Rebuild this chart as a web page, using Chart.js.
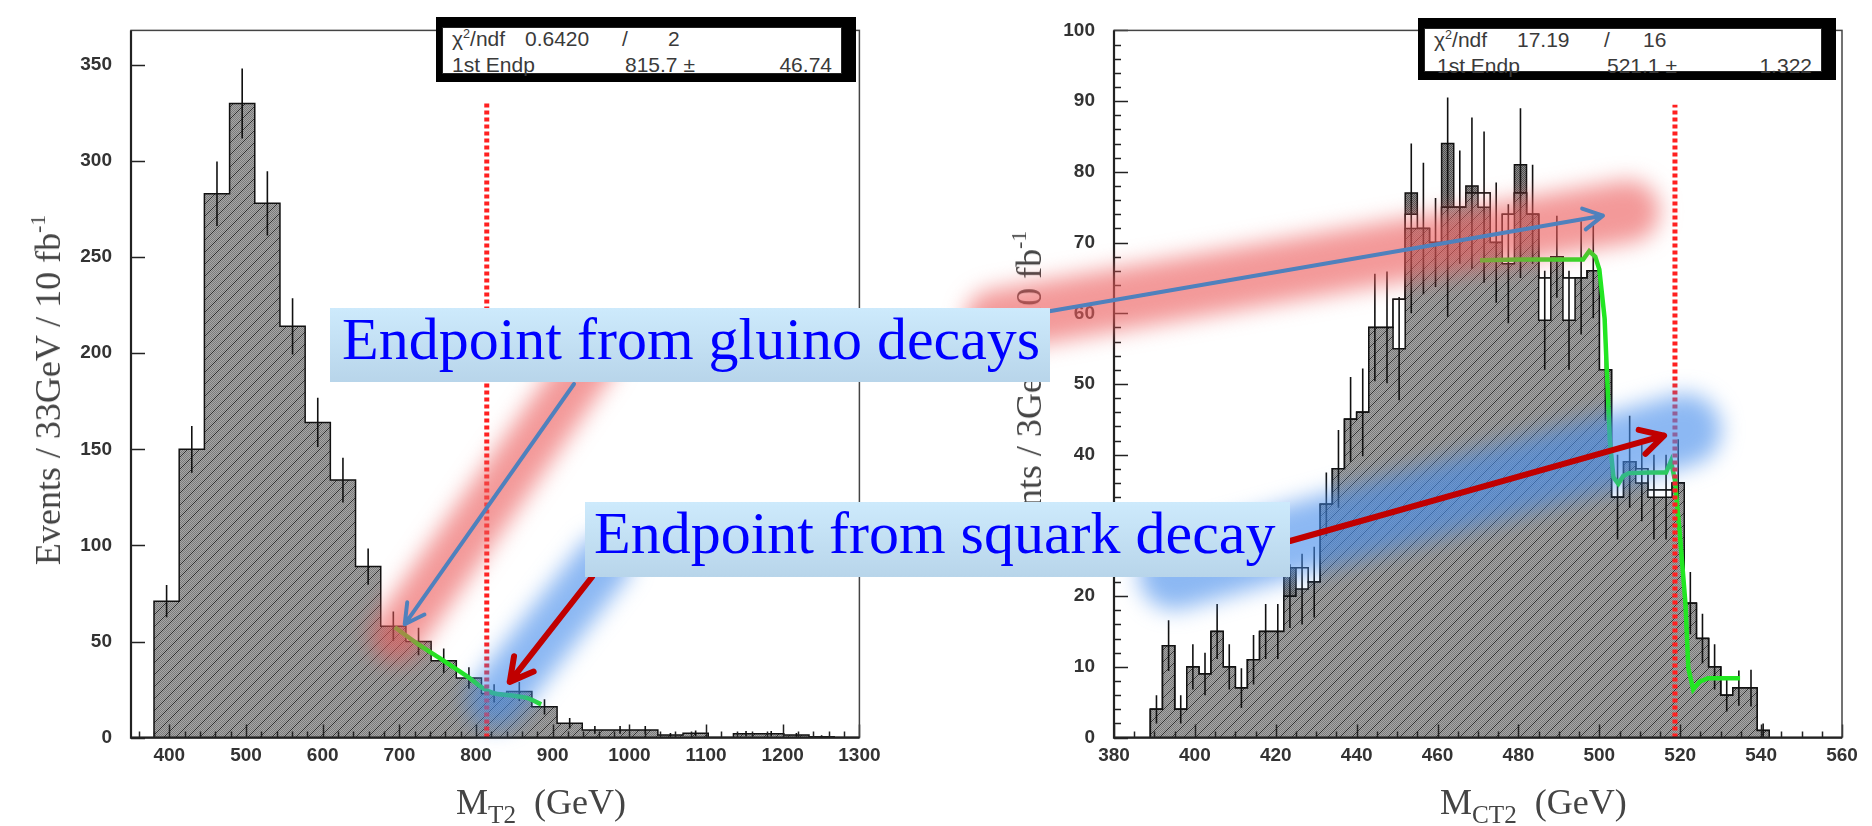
<!DOCTYPE html>
<html>
<head>
<meta charset="utf-8">
<script src="https://cdn.jsdelivr.net/npm/chart.js@4.4.1/dist/chart.umd.min.js"></script>
<style>
  html, body { margin: 0; padding: 0; background: #fff; }
  #page { position: relative; width: 1872px; height: 826px; overflow: hidden; font-family: 'Liberation Sans', Arial, sans-serif; }
  canvas { position: absolute; top: 0; }
  #leftChart { left: 0; z-index: 1; }
  #rightChart { left: 960px; z-index: 1; }
  #overlay { left: 0; z-index: 3; pointer-events: none; }
  .ytitle, .xtitle { position: absolute; z-index: 2; font: 36px 'Liberation Serif', 'Times New Roman', serif; color: #444; white-space: nowrap; line-height: 36px; }
  .ytitle { transform: translate(-50%, -50%) rotate(-90deg); }
  .ytitle sup { font-size: 60%; vertical-align: 0.7em; line-height: 0; }
  .xtitle sub { font-size: 70%; vertical-align: -0.35em; line-height: 0; }
  .stat { position: absolute; z-index: 4; background: #000; }
  .stat div { position: absolute; background: #fff; border: 1px solid #222; box-sizing: border-box; }
  .stxt { position: absolute; z-index: 5; font-size: 21px; line-height: 21px; color: #3a3a3a; white-space: nowrap; }
  .stxt sup { font-size: 60%; vertical-align: 0.6em; line-height: 0; }
  .label { position: absolute; z-index: 6; background: linear-gradient(#cdeafc, #b8d5ea); color: #0000ff; font: 60px 'Liberation Serif', 'Times New Roman', serif; white-space: nowrap; overflow: hidden; }
  .label span { position: relative; }
</style>
</head>
<body>
<div id="page">
  <canvas id="leftChart" width="940" height="826"></canvas>
  <canvas id="rightChart" width="912" height="826"></canvas>
  <canvas id="overlay" width="1872" height="826"></canvas>

  <div class="ytitle" style="left:48px; top:390px;">Events / 33GeV / 10 fb<sup>-1</sup></div>
  <div class="ytitle" style="left:1029px; top:397px;">Events / 3GeV / 10 fb<sup>-1</sup></div>
  <div class="xtitle" style="left:456px; top:784px;">M<sub>T2</sub>&nbsp; (GeV)</div>
  <div class="xtitle" style="left:1440px; top:784px;">M<sub>CT2</sub>&nbsp; (GeV)</div>

  <div class="stat" style="left:436px; top:17px; width:420px; height:65px;"><div style="left:6px; top:10px; width:400px; height:47px;"></div></div>
  <span class="stxt" style="left:452px; top:28px;">&chi;<sup>2</sup>/ndf</span>
  <span class="stxt" style="left:525px; top:28px;">0.6420</span>
  <span class="stxt" style="left:622px; top:28px;">/</span>
  <span class="stxt" style="left:668px; top:28px;">2</span>
  <span class="stxt" style="left:452px; top:54px;">1st Endp</span>
  <span class="stxt" style="left:625px; top:54px;">815.7 &plusmn;</span>
  <span class="stxt" style="left:772px; top:54px; width:60px; text-align:right;">46.74</span>

  <div class="stat" style="left:1418px; top:18px; width:418px; height:62px;"><div style="left:6px; top:10px; width:398px; height:44px;"></div></div>
  <span class="stxt" style="left:1434px; top:29px;">&chi;<sup>2</sup>/ndf</span>
  <span class="stxt" style="left:1517px; top:29px;">17.19</span>
  <span class="stxt" style="left:1604px; top:29px;">/</span>
  <span class="stxt" style="left:1643px; top:29px;">16</span>
  <span class="stxt" style="left:1437px; top:55px;">1st Endp</span>
  <span class="stxt" style="left:1607px; top:55px;">521.1 &plusmn;</span>
  <span class="stxt" style="left:1752px; top:55px; width:60px; text-align:right;">1.322</span>

  <div class="label" style="left:330px; top:308px; width:720px; height:74px; line-height:74px;"><span style="left:12px; top:-6px;">Endpoint from gluino decays</span></div>
  <div class="label" style="left:585px; top:502px; width:705px; height:75px; line-height:75px;"><span style="left:9px; top:-6px;">Endpoint from squark decay</span></div>
</div>

<script>
// left panel: M_T2, 28 bins of ~33 GeV
const leftRange = [380, 1300]
const leftCounts = [71, 150, 283, 330, 278, 214, 164, 134, 89, 58, 50, 40, 31, 23, 24, 16, 7.5, 4, 4, 4, 1.3, 2.2, 0, 2, 2, 1.3, 0.5, 0]
const leftErrors = [8.4, 12.2, 16.8, 18.2, 16.7, 14.6, 12.8, 11.6, 9.4, 7.6, 7.1, 6.3, 5.6, 4.8, 4.9, 4, 2.7, 2, 2, 2, 1.1, 1.5, 0, 1.4, 1.4, 1.1, 0.7, 0]
const leftFitX = [694, 722, 759, 792, 809, 822, 844, 866, 885]
const leftFitY = [57.4, 49.3, 39.6, 30.8, 25.7, 23.2, 22, 20.7, 17.3]
const leftEndpoint = 814
const leftEndpointTop = 330
const leftAxis = { xMin: 350, xMax: 1300, xMajor: 100, xMinor: 20, yMax: 368, yMajor: 50, yMinor: 50 }

// right panel: M_CT2, 3 GeV bins from 389 to 542
const rightRange = [389, 542]
const rightOuter = [4, 13, 4, 10, 9, 15, 10, 7, 11, 15, 15, 24, 24, 22, 33, 38, 45, 46, 58, 58, 62, 77, 72, 70, 84, 75, 78, 77, 70, 74, 81, 74, 65, 68, 65, 65, 66, 52, 34, 39, 38, 35, 35, 36, 19, 14, 10, 6, 7, 7, 1]
const rightWhite = [4, 13, 4, 10, 9, 15, 10, 7, 11, 15, 15, 20, 24, 22, 33, 38, 45, 46, 58, 58, 62, 74, 72, 70, 75, 75, 77, 77, 70, 74, 77, 74, 65, 68, 65, 65, 66, 52, 34, 39, 38, 35, 35, 36, 19, 14, 10, 6, 7, 7, 1]
const rightInner = [4, 13, 4, 10, 9, 15, 10, 7, 11, 15, 15, 20, 21, 22, 33, 38, 45, 46, 58, 58, 55, 72, 72, 70, 75, 75, 77, 75, 70, 67, 77, 74, 59, 68, 59, 65, 66, 52, 34, 39, 36, 34, 34, 36, 19, 14, 10, 6, 7, 7, 1]
const rightErrors = [2, 3.6, 2, 3.2, 3, 3.9, 3.2, 2.8, 3.5, 3.9, 3.9, 4.5, 5, 5, 4.5, 5.5, 6, 6.2, 7.6, 7.9, 7.3, 12, 9.3, 6.3, 15.5, 8, 10.7, 10.7, 8.5, 8.4, 12, 7, 7, 5.8, 7, 8, 6.7, 7.2, 6, 6.5, 5.4, 6, 6, 6.2, 4.4, 3.5, 3.2, 2.3, 2.5, 2.6, 1]
const rightFitX = [470.5, 480, 490, 496, 497.5, 499, 500, 501.3, 502, 502.6, 503.5, 504.7, 505.9, 507.3, 512, 516.5, 517.7, 518.7, 520, 521.3, 522, 523.2, 524.8, 526.9, 534.8]
const rightFitY = [67.5, 67.6, 67.6, 67.6, 68.8, 68, 66.2, 59.3, 50, 42, 36.8, 35.9, 37, 37.4, 37.5, 37.5, 39.1, 36.4, 28.1, 18.9, 9.8, 6.8, 7.9, 8.4, 8.4]
const rightEndpoint = 518.7
const rightEndpointTop = 89.5
const rightAxis = { xMin: 380, xMax: 560, xMajor: 20, xMinor: 5, yMax: 100, yMajor: 10, yMinor: 2 }

// annotation arrows: tip in data coordinates, tail on the page
const arrows = [
  { panel: 'left', tip: [707, 59], tail: [574, 384], color: '#4f81bd', width: 4, head: 22 },
  { panel: 'right', tip: [500.9, 73.8], tail: [1045, 312], color: '#4f81bd', width: 4, head: 22 },
  { panel: 'left', tip: [844, 29], tail: [592, 577], color: '#c00000', width: 6, head: 26 },
  { panel: 'right', tip: [516, 42.7], tail: [1290, 541], color: '#c00000', width: 6, head: 26 }
]
const glows = [
  { arrow: 0, width: 52, back: 30, front: 14, color: 'rgba(235, 90, 90, 0.62)' },
  { arrow: 1, width: 62, back: 50, front: 26, color: 'rgba(235, 90, 90, 0.62)' },
  { arrow: 2, width: 56, back: 20, front: 22, color: 'rgba(70, 140, 235, 0.62)' },
  { arrow: 3, width: 72, back: 120, front: 22, color: 'rgba(70, 140, 235, 0.62)' }
]

Chart.defaults.font.family = "'Liberation Sans', Arial, sans-serif"

function makePattern(kind) {
  const tile = document.createElement('canvas')
  const size = kind === 'hatch' ? 12 : 2
  tile.width = size
  tile.height = size
  const t = tile.getContext('2d')
  for (let x = 0; x < size; x++) {
    for (let y = 0; y < size; y++) {
      if (kind === 'hatch') {
        const d = (x + y) % size
        t.fillStyle = d === 0 ? '#2f2f2f' : (d % 2 ? '#a6a6a6' : '#7c7c7c')
      } else {
        t.fillStyle = (x + y) % 2 ? '#8c8c8c' : '#505050'
      }
      t.fillRect(x, y, 1, 1)
    }
  }
  return t.createPattern(tile, 'repeat')
}

function stepPoints(range, counts) {
  const w = (range[1] - range[0]) / counts.length
  const pts = [{ x: range[0], y: 0 }]
  counts.forEach((c, i) => pts.push({ x: range[0] + i * w, y: c }))
  pts.push({ x: range[1], y: 0 })
  return pts
}

function errorPoints(range, counts, errs) {
  const w = (range[1] - range[0]) / counts.length
  const pts = []
  counts.forEach((c, i) => {
    if (!errs[i]) return
    const x = range[0] + (i + 0.5) * w
    pts.push({ x, y: Math.max(0, c - errs[i]) }, { x, y: c + errs[i] }, { x, y: null })
  })
  return pts
}

function zip(xs, ys) {
  return xs.map((x, i) => ({ x, y: ys[i] }))
}

function histDataset(range, counts, fill, order) {
  return {
    data: stepPoints(range, counts),
    stepped: 'before',
    borderColor: '#111',
    borderWidth: 1.5,
    backgroundColor: fill,
    fill: 'origin',
    pointRadius: 0,
    order
  }
}

const rootFrame = {
  id: 'rootFrame',
  afterDraw(chart, args, opts) {
    const { ctx, chartArea: a, scales: { x, y } } = chart
    ctx.save()
    ctx.strokeStyle = '#222'
    ctx.lineWidth = 1.5
    ctx.beginPath()
    for (let i = Math.ceil(x.min / opts.xMinor); i * opts.xMinor <= x.max; i++) {
      const v = i * opts.xMinor
      const px = Math.round(x.getPixelForValue(v)) + 0.5
      ctx.moveTo(px, a.bottom)
      ctx.lineTo(px, a.bottom - (v % opts.xMajor === 0 ? 13 : 6))
    }
    for (let i = Math.ceil(y.min / opts.yMinor); i * opts.yMinor <= y.max; i++) {
      const v = i * opts.yMinor
      const py = Math.round(y.getPixelForValue(v)) + 0.5
      ctx.moveTo(a.left, py)
      ctx.lineTo(a.left + (v % opts.yMajor === 0 ? 14 : 7), py)
    }
    ctx.stroke()
    ctx.strokeStyle = '#444'
    ctx.lineWidth = 1.5
    ctx.strokeRect(a.left, a.top, a.right - a.left, a.bottom - a.top)
    ctx.strokeStyle = '#222'
    ctx.lineWidth = 2.2
    ctx.beginPath()
    ctx.moveTo(a.left, a.top)
    ctx.lineTo(a.left, a.bottom)
    ctx.lineTo(a.right, a.bottom)
    ctx.stroke()
    ctx.restore()
  }
}

function makeChart(id, axis, datasets, yWidth, padRight) {
  const tickFont = { size: 19, weight: 'bold' }
  return new Chart(document.getElementById(id), {
    type: 'line',
    data: { datasets },
    plugins: [rootFrame],
    options: {
      responsive: false,
      animation: false,
      devicePixelRatio: 1,
      events: [],
      layout: { padding: { left: 0, top: 9.5, right: padRight, bottom: 0 } },
      plugins: {
        legend: { display: false },
        tooltip: { enabled: false },
        rootFrame: axis
      },
      scales: {
        x: {
          type: 'linear',
          min: axis.xMin,
          max: axis.xMax,
          grid: { display: false, drawTicks: false },
          border: { display: false },
          afterFit: (scale) => { scale.height = 88.4 },
          ticks: {
            stepSize: axis.xMajor,
            includeBounds: false,
            autoSkip: false,
            maxRotation: 0,
            padding: 7,
            color: '#333',
            font: tickFont,
            callback: (v) => (v % axis.xMajor === 0 ? v : null)
          }
        },
        y: {
          min: 0,
          max: axis.yMax,
          grid: { display: false, drawTicks: false },
          border: { display: false },
          afterFit: (scale) => { scale.width = yWidth },
          ticks: {
            stepSize: axis.yMajor,
            includeBounds: false,
            autoSkip: false,
            padding: 19,
            color: '#333',
            font: tickFont,
            callback: (v) => (v % axis.yMajor === 0 ? v : null)
          }
        }
      }
    }
  })
}

const hatch = makePattern('hatch')
const dots = makePattern('dots')

const errorStyle = { borderColor: '#111', borderWidth: 1.6, pointRadius: 0, spanGaps: false, fill: false, order: 2 }
const fitStyle = { borderColor: '#22e622', borderWidth: 4.5, pointRadius: 0, fill: false, order: 1 }
const endpointStyle = { borderColor: '#ff2020', borderWidth: 5, borderDash: [4, 3], pointRadius: 0, fill: false, order: 0 }

const leftChart = makeChart('leftChart', leftAxis, [
  histDataset(leftRange, leftCounts, hatch, 5),
  { data: errorPoints(leftRange, leftCounts, leftErrors), ...errorStyle },
  { data: zip(leftFitX, leftFitY), ...fitStyle, cubicInterpolationMode: 'monotone' },
  { data: [{ x: leftEndpoint, y: 0 }, { x: leftEndpoint, y: leftEndpointTop }], ...endpointStyle }
], 131, 80.6)

const rightChart = makeChart('rightChart', rightAxis, [
  histDataset(rightRange, rightOuter, dots, 7),
  histDataset(rightRange, rightWhite, '#ffffff', 6),
  histDataset(rightRange, rightInner, hatch, 5),
  { data: errorPoints(rightRange, rightInner, rightErrors), ...errorStyle },
  { data: zip(rightFitX, rightFitY), ...fitStyle, tension: 0 },
  { data: [{ x: rightEndpoint, y: 0 }, { x: rightEndpoint, y: rightEndpointTop }], ...endpointStyle }
], 154, 30)

function tipOnPage(arrow) {
  const chart = arrow.panel === 'left' ? leftChart : rightChart
  const offset = arrow.panel === 'left' ? 0 : 960
  return [offset + chart.scales.x.getPixelForValue(arrow.tip[0]), chart.scales.y.getPixelForValue(arrow.tip[1])]
}

function drawAnnotations() {
  const ctx = document.getElementById('overlay').getContext('2d')

  glows.forEach((g) => {
    const a = arrows[g.arrow]
    const tip = tipOnPage(a)
    const dx = tip[0] - a.tail[0]
    const dy = tip[1] - a.tail[1]
    const len = Math.hypot(dx, dy)
    const ux = dx / len
    const uy = dy / len
    ctx.save()
    ctx.filter = 'blur(11px)'
    ctx.strokeStyle = g.color
    ctx.lineWidth = g.width
    ctx.lineCap = 'round'
    ctx.beginPath()
    ctx.moveTo(a.tail[0] - ux * g.back, a.tail[1] - uy * g.back)
    ctx.lineTo(tip[0] + ux * g.front, tip[1] + uy * g.front)
    ctx.stroke()
    ctx.restore()
  })

  arrows.forEach((a) => {
    const tip = tipOnPage(a)
    const ang = Math.atan2(tip[1] - a.tail[1], tip[0] - a.tail[0])
    ctx.save()
    ctx.strokeStyle = a.color
    ctx.lineWidth = a.width
    ctx.lineCap = 'round'
    ctx.lineJoin = 'round'
    ctx.beginPath()
    ctx.moveTo(a.tail[0], a.tail[1])
    ctx.lineTo(tip[0] - Math.cos(ang) * 2, tip[1] - Math.sin(ang) * 2)
    for (const s of [-1, 1]) {
      ctx.moveTo(tip[0], tip[1])
      ctx.lineTo(tip[0] - a.head * Math.cos(ang + s * 0.5), tip[1] - a.head * Math.sin(ang + s * 0.5))
    }
    ctx.stroke()
    ctx.restore()
  })
}

drawAnnotations()
</script>
</body>
</html>
